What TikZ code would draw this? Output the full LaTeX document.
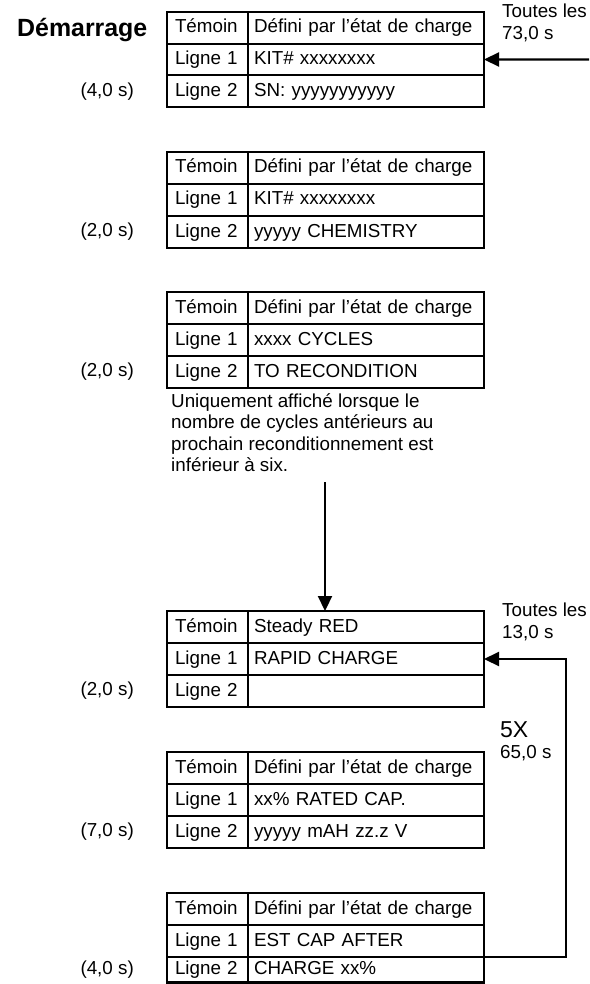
\documentclass[tikz,border=0pt]{standalone}
\usepackage{fontspec}
\setmainfont{Liberation Sans}
\usetikzlibrary{arrows.meta,calc}
\tikzset{
  base/.style={font=\fontsize{18.8}{21.5}\selectfont, inner sep=0pt},
  cell/.style={base, draw, line width=2.2pt, outer sep=0pt, text height=13.5pt, text depth=3.5pt, align=left, inner ysep=0pt},
  cellL/.style={cell, minimum width=81pt, text width=65pt, inner xsep=8pt},
  cellR/.style={cell, minimum width=236pt, text width=224pt, inner xsep=6pt},
  lbl/.style={base},
  conn/.style={line width=2.2pt, -{Triangle[length=15pt,width=14pt]}},
}
\newcommand\mytable[7]{%
  \node[cellL, minimum height=#3pt, anchor=north west] (#1l1) at (167,#2) {Témoin};
  \node[cellR, minimum height=#3pt, anchor=north west] (#1r1) at (#1l1.north east) {#5};
  \node[cellL, minimum height=#3pt, anchor=north west] (#1l2) at (#1l1.south west) {Ligne 1};
  \node[cellR, minimum height=#3pt, anchor=north west] (#1r2) at (#1l2.north east) {#6};
  \node[cellL, minimum height=#4pt, anchor=north west] (#1l3) at (#1l2.south west) {Ligne 2};
  \node[cellR, minimum height=#4pt, anchor=north west] (#1r3) at (#1l3.north east) {#7};
}
\begin{document}
\begin{tikzpicture}[x=1pt,y=-1pt]
\useasboundingbox (0,0) rectangle (589,984);

\mytable{t1}{12}{31.67}{31.67}{Défini par l’état de charge}{KIT\# xxxxxxxx}{SN: yyyyyyyyyyy}
\mytable{t2}{152}{32}{32}{Défini par l’état de charge}{KIT\# xxxxxxxx}{yyyyy CHEMISTRY}
\mytable{t3}{292}{32}{32}{Défini par l’état de charge}{xxxx CYCLES}{TO RECONDITION}
\mytable{t4}{611}{32}{32}{Steady RED}{RAPID CHARGE}{}
\mytable{t5}{752}{32}{32}{Défini par l’état de charge}{xx\% RATED CAP.}{yyyyy mAH zz.z V}
\mytable{t6}{893}{32}{25.5}{Défini par l’état de charge}{EST CAP AFTER}{CHARGE xx\%}

\node[lbl, font=\fontsize{24.9}{28}\selectfont\bfseries, anchor=base west] (dem) at (17,37) {Démarrage};

\path (t1l3.west) ++(-33,0) node[lbl, anchor=east] (d1) {(4,0 s)};
\path (t2l3.west) ++(-33,0) node[lbl, anchor=east] (d2) {(2,0 s)};
\path (t3l3.west) ++(-33,0) node[lbl, anchor=east] (d3) {(2,0 s)};
\path (t4l3.west) ++(-33,0) node[lbl, anchor=east] (d4) {(2,0 s)};
\path (t5l3.west) ++(-33,0) node[lbl, anchor=east] (d5) {(7,0 s)};
\path (t6l3.west) ++(-33,0) node[lbl, anchor=east] (d6) {(4,0 s)};

\node[lbl, anchor=north west, align=left] (ev1) at (502,4) {Toutes les\\73,0 s};
\node[lbl, anchor=north west, align=left] (ev2) at (502,603) {Toutes les\\13,0 s};
\node[lbl, font=\fontsize{23}{26}\selectfont, anchor=west] (fx) at (500,730) {5X};
\node[lbl, anchor=west] (fs) at (500,753) {65,0 s};

\node[lbl, anchor=north west, align=left] (note) at (171,393) {Uniquement affiché lorsque le\\nombre de cycles antérieurs au\\prochain reconditionnement est\\inférieur à six.};

\coordinate (a1) at (589,59.5);
\draw[conn] (a1) -- (t1r2.east);
\coordinate (a2) at (325,482);
\draw[conn] (a2) -- (a2 |- t4r1.north);
\draw[conn] (t6r2.south east) -- ++(82,0) |- (t4r2.east);
\end{tikzpicture}
\end{document}
